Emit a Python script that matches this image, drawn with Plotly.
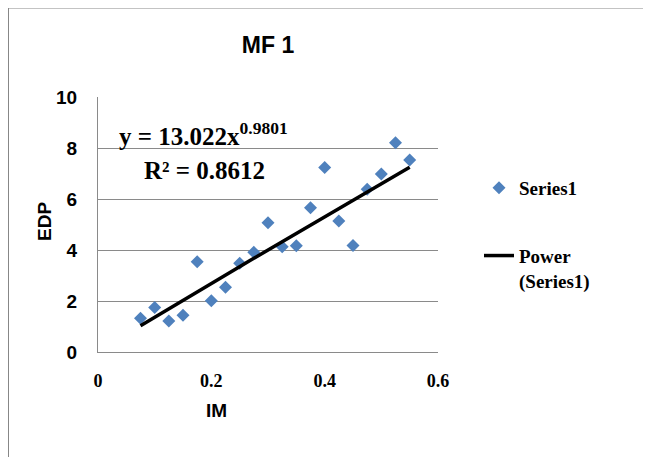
import numpy as np
import plotly.graph_objects as go

# ---- data ----
im_values = [0.075, 0.100, 0.125, 0.150, 0.175, 0.200, 0.225, 0.250, 0.275, 0.300,
             0.325, 0.350, 0.375, 0.400, 0.425, 0.450, 0.475, 0.500, 0.525, 0.550]
edp_values = [1.32, 1.75, 1.22, 1.44, 3.54, 2.01, 2.54, 3.48, 3.91, 5.07,
              4.13, 4.17, 5.66, 7.24, 5.14, 4.18, 6.38, 6.98, 8.21, 7.53]
fit_coef = 13.022
fit_exp = 0.9801
fit_r2 = 0.8612
x_ticks = [0, 0.2, 0.4, 0.6]
x_tick_labels = ["0", "0.2", "0.4", "0.6"]
y_ticks = [0, 2, 4, 6, 8, 10]
y_tick_labels = ["0", "2", "4", "6", "8", "10"]

# trend line from the fitted power law shown on the chart
fit_x = np.linspace(min(im_values), max(im_values), 60)
fit_y = fit_coef * fit_x ** fit_exp

W, H = 651, 457
OFF = 8  # page offset of the figure inside the browser window
ML, MR, MT, MB = 98 - OFF, W - (438 - OFF), 97 - OFF, H - (352 - OFF)
pw, ph = W - ML - MR, H - MT - MB

def px_to_paper_x(px):
    """page x pixel -> paper x"""
    return (px - OFF - ML) / pw

def py_to_paper_y(py):
    """page y pixel -> paper y"""
    return (H - MB - (py - OFF)) / ph

SERIF = "Liberation Serif, Times New Roman, serif"
SANS = "Liberation Sans, Arial, sans-serif"
GRID = "#8a8a8a"

fig = go.Figure()
fig.add_trace(go.Scatter(
    x=im_values, y=edp_values, mode="markers", name="Series1",
    marker=dict(symbol="diamond", size=10, color="#4F81BD"),
    legendgroup="a",
))
fig.add_trace(go.Scatter(
    x=fit_x, y=fit_y, mode="lines", name="Power<br>(Series1)",
    line=dict(color="black", width=3.5),
    legendgroup="b",
))

fig.update_layout(
    width=W, height=H,
    margin=dict(l=ML, r=MR, t=MT, b=MB),
    paper_bgcolor="white", plot_bgcolor="white",
    title=dict(text="MF 1", x=0.5, xref="paper", xanchor="center",
               y=1 - (45 - OFF) / H, yref="container", yanchor="middle",
               font=dict(family=SANS, size=23, color="black", weight="bold")),
    xaxis=dict(range=[0, 0.6], tickvals=x_ticks, ticktext=x_tick_labels,
               showgrid=False, showline=True, linecolor=GRID, linewidth=1,
               zeroline=False, ticks="", ticklabelstandoff=12,
               tickfont=dict(family=SERIF, size=18, color="black", weight="bold")),
    yaxis=dict(range=[0, 10], tickvals=y_ticks, ticktext=y_tick_labels,
               showgrid=True, gridcolor=GRID, gridwidth=1,
               showline=True, linecolor=GRID, linewidth=1,
               zeroline=False, ticks="", ticklabelstandoff=16,
               tickfont=dict(family=SANS, size=19, color="black", weight="bold")),
    legend=dict(x=px_to_paper_x(479), xanchor="left",
                y=py_to_paper_y(169), yanchor="top",
                bgcolor="rgba(0,0,0,0)", tracegroupgap=40, valign="top",
                font=dict(family=SERIF, size=19, color="black", weight="bold")),
    showlegend=True,
)

# axis titles
fig.add_annotation(
    x=px_to_paper_x(216), y=py_to_paper_y(410), xref="paper", yref="paper",
    xanchor="center", yanchor="middle", text="IM", showarrow=False,
    font=dict(family=SANS, size=19, color="black", weight="bold"),
)
fig.add_annotation(
    x=px_to_paper_x(44), y=py_to_paper_y(222), xref="paper", yref="paper",
    xanchor="center", yanchor="middle", text="EDP", showarrow=False,
    textangle=-90,
    font=dict(family=SANS, size=19, color="black", weight="bold"),
)

# trendline equation
fig.add_annotation(
    x=0.033, y=8.55, xref="x", yref="y", xanchor="left", yanchor="middle",
    text=f"y = {fit_coef:.3f}x<sup>{fit_exp:.4f}</sup>", showarrow=False,
    font=dict(family=SERIF, size=25, color="black", weight="bold"),
)
fig.add_annotation(
    x=0.077, y=7.12, xref="x", yref="y", xanchor="left", yanchor="middle",
    text=f"R² = {fit_r2:.4f}", showarrow=False,
    font=dict(family=SERIF, size=25, color="black", weight="bold"),
)

# outer chart border (top and left visible)
fig.add_shape(type="rect", xref="paper", yref="paper",
              x0=px_to_paper_x(8), x1=px_to_paper_x(W + 30),
              y0=py_to_paper_y(H + 30), y1=py_to_paper_y(7.5),
              line=dict(color="#878787", width=2), fillcolor="rgba(0,0,0,0)",
              layer="below")

fig.write_html("out.html")
